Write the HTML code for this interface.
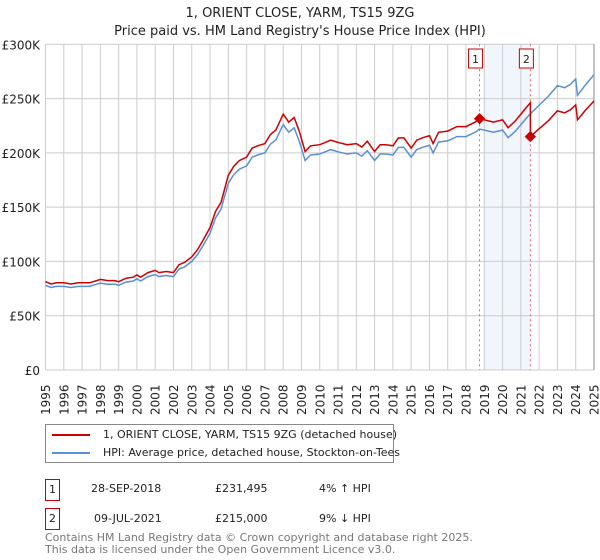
<!DOCTYPE html>
<html><head><meta charset="utf-8"><style>
body{margin:0;background:#fff;width:600px;height:560px;overflow:hidden;font-family:"DejaVu Sans","Liberation Sans",sans-serif;}
svg{position:absolute;left:0;top:0}
</style></head><body>
<svg id="c" width="600" height="560"></svg>
<script>
const years=[1995,1995.3,1995.6,1996,1996.4,1996.8,1997,1997.4,1997.8,1998,1998.4,1998.8,1999,1999.4,1999.8,2000,2000.2,2000.6,2001,2001.2,2001.6,2002,2002.3,2002.6,2003,2003.3,2003.6,2004,2004.3,2004.6,2005,2005.3,2005.6,2006,2006.3,2006.6,2007,2007.3,2007.6,2008,2008.3,2008.6,2008.9,2009.2,2009.5,2010,2010.3,2010.6,2011,2011.5,2012,2012.3,2012.6,2013,2013.3,2013.6,2014,2014.3,2014.6,2015,2015.3,2015.6,2016,2016.2,2016.5,2017,2017.5,2018,2018.5,2018.74,2019,2019.5,2020,2020.3,2020.7,2021,2021.3,2021.52,2022,2022.5,2023,2023.4,2023.7,2024,2024.1,2024.5,2025];
const hpi=[78,76,77,77,76,77,77,77,79,80,79,79,78,81,82,84,82,86,88,86,87,86,93,95,100,106,114,126,140,148,172,180,185,188,196,198,200,208,212,226,219,223,210,193,198,199,201,203,201,199,200,197,202,193,199,199,198,205,205,196,203,205,207,200,210,211,215,215,219,222,221,219,221,214,220,226,232,236,244,252,262,260,263,268,253,262,272];
const sales=[{n:"1",t:2018.74,p:231.495},{n:"2",t:2021.52,p:215.0}];
const yTicks=[0,50,100,150,200,250,300];
const yLabels=["£0","£50K","£100K","£150K","£200K","£250K","£300K"];
const NS="http://www.w3.org/2000/svg",svg=document.getElementById('c');
const X=t=>45.5+(t-1995)*(548.5/30), Y=v=>370-v*(325.7/300);
function el(tag,a,txt){const e=document.createElementNS(NS,tag);for(const k in a)e.setAttribute(k,a[k]);if(txt!==undefined)e.textContent=txt;svg.appendChild(e);return e;}
function hpiAt(t){for(let i=0;i<years.length-1;i++){if(t>=years[i]&&t<=years[i+1]){const f=(t-years[i])/(years[i+1]-years[i]);return hpi[i]+f*(hpi[i+1]-hpi[i]);}}return hpi[hpi.length-1];}
let t1=el('text',{x:300,y:17,'text-anchor':'middle','font-size':'13',fill:'#222'},"1, ORIENT CLOSE, YARM, TS15 9ZG");

let t2=el('text',{x:300,y:35,'text-anchor':'middle','font-size':'13',fill:'#222'},"Price paid vs. HM Land Registry's House Price Index (HPI)");

let sh=el('rect',{x:X(2019),y:Y(300),width:X(2021.52)-X(2019),height:Y(0)-Y(300),fill:'#eef3fb',opacity:0.8});

for(let yr=1995;yr<=2025;yr++){const g=el('line',{x1:X(yr),x2:X(yr),y1:Y(300),y2:Y(0),stroke:'#ccc','stroke-width':1});
 const lx=X(yr)+4.5,ly=415;const l=el('text',{x:lx,y:ly,transform:`rotate(-90 ${lx} ${ly})`,'font-size':'12',fill:'#222'},String(yr));}
yTicks.forEach((v,i)=>{const g=el('line',{x1:45.5,x2:594,y1:Y(v),y2:Y(v),stroke:'#ccc','stroke-width':1});
 const l=el('text',{x:40,y:Y(v)+5,'text-anchor':'end','font-size':'12',fill:'#222'},yLabels[i]);});
let ax=el('line',{x1:594,x2:594,y1:Y(300),y2:Y(0),stroke:'#888','stroke-width':1});
sales.forEach(s=>{const v=el('line',{x1:X(s.t),x2:X(s.t),y1:Y(300),y2:Y(0),stroke:'#f06060','stroke-width':1,'stroke-dasharray':'2,3'});
 const b=el('rect',{x:X(s.t)-11,y:49,width:14,height:19,fill:'#fff',stroke:'#c00','stroke-width':1});
 const t=el('text',{x:X(s.t)-4,y:63,'text-anchor':'middle','font-size':'11',fill:'#222'},s.n);});
let bp=years.map((t,i)=>X(t).toFixed(1)+','+Y(hpi[i]).toFixed(1)).join(' ');
let bl=el('polyline',{points:bp,fill:'none',stroke:'#5b8fd4','stroke-width':1.5});
const r1=sales[0].p/hpiAt(sales[0].t), r2=sales[1].p/hpiAt(sales[1].t);
let rp=[];years.forEach((t,i)=>{if(t<sales[1].t)rp.push([t,hpi[i]*r1]);});
rp.push([sales[1].t,hpiAt(sales[1].t)*r1]);rp.push([sales[1].t,sales[1].p]);
years.forEach((t,i)=>{if(t>sales[1].t)rp.push([t,hpi[i]*r2]);});
let rl=el('polyline',{points:rp.map(p=>X(p[0]).toFixed(1)+','+Y(p[1]).toFixed(1)).join(' '),fill:'none',stroke:'#cc0000','stroke-width':1.5});
sales.forEach(s=>{const d=el('rect',{x:X(s.t)-4,y:Y(s.p)-4,width:8,height:8,fill:'#cc0000',transform:`rotate(45 ${X(s.t)} ${Y(s.p)})`});});
</script>
<div style="position:absolute;left:45px;top:424px;width:347px;height:37px;border:1px solid #888;font-size:11px;color:#222">
<div style="position:absolute;left:6px;top:3px;white-space:nowrap"><span style="display:inline-block;width:38px;height:2px;background:#cc0000;vertical-align:middle;margin-right:13px"></span>1, ORIENT CLOSE, YARM, TS15 9ZG (detached house)</div>
<div style="position:absolute;left:6px;top:21px;white-space:nowrap"><span style="display:inline-block;width:38px;height:2px;background:#5b8fd4;vertical-align:middle;margin-right:13px"></span>HPI: Average price, detached house, Stockton-on-Tees</div>
</div>
<div style="position:absolute;left:0;top:0;font-size:11px;color:#222">
<div style="position:absolute;left:45px;top:479px;width:13px;height:20px;border:1px solid #c00;text-align:center;line-height:20px">1</div>
<div style="position:absolute;left:91px;top:482px;white-space:nowrap">28-SEP-2018</div>
<div style="position:absolute;left:215px;top:482px">£231,495</div>
<div style="position:absolute;left:319px;top:482px;white-space:nowrap">4% ↑ HPI</div>
<div style="position:absolute;left:45px;top:508px;width:13px;height:20px;border:1px solid #c00;text-align:center;line-height:20px">2</div>
<div style="position:absolute;left:94px;top:512px;white-space:nowrap">09-JUL-2021</div>
<div style="position:absolute;left:215px;top:512px">£215,000</div>
<div style="position:absolute;left:319px;top:512px;white-space:nowrap">9% ↓ HPI</div>
</div>
<div style="position:absolute;left:45px;top:532px;font-size:11px;line-height:11.5px;color:#777;white-space:nowrap">Contains HM Land Registry data © Crown copyright and database right 2025.<br>This data is licensed under the Open Government Licence v3.0.</div>
</body></html>
